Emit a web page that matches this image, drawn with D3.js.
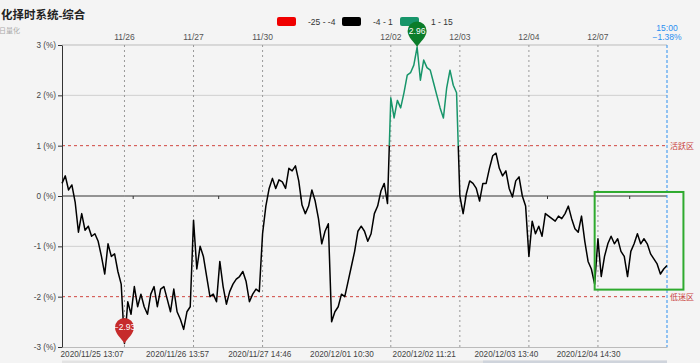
<!DOCTYPE html>
<html>
<head>
<meta charset="utf-8">
<title>化择时系统-综合</title>
<style type="text/css">
	body {
		margin: 0;
		background: #f4f4f4;
	}
	svg {
		display: block;
		font-family: "Liberation Sans", "Noto Sans CJK SC", sans-serif;
	}
</style>
<script src="https://d3js.org/d3.v7.min.js"></script>
</head>
<body>
<script type="text/javascript">
	// one array per trading day, values in %
	var d1125 = [0.25, 0.40, 0.12, 0.22, -0.12, -0.72, -0.35, -0.68, -0.60, -0.80, -0.75, -0.90, -1.20, -1.55, -0.95, -1.20, -1.15, -1.50, -1.75];
	var d1126 = [-2.93, -2.10, -2.35, -1.80, -2.20, -1.95, -2.20, -2.35, -1.95, -1.80, -2.20, -1.85, -1.80, -2.05, -2.30, -1.85, -2.30, -2.45, -2.65, -2.30, -2.20];
	var d1127 = [-0.48, -1.45, -1.00, -1.20, -1.60, -2.00, -1.95, -2.10, -1.30, -1.80, -2.15, -1.90, -1.75, -1.65, -1.60, -1.50, -1.70, -2.10, -1.95, -1.85, -1.90];
	var d1130 = [-0.75, -0.20, 0.15, 0.35, 0.15, 0.32, 0.28, 0.15, 0.55, 0.50, 0.60, 0.30, -0.18, -0.35, -0.20, 0.12, -0.10, -0.45, -0.95, -0.70];
	var d1201 = [-0.55, -2.50, -2.30, -2.20, -1.95, -2.00, -1.70, -1.40, -1.10, -0.70, -0.60, -0.70, -0.90, -0.75, -0.35, -0.20, 0.10, 0.25, -0.15];
	var d1202 = [1.95, 1.55, 1.90, 1.75, 2.05, 2.40, 2.45, 2.60, 2.96, 2.30, 2.70, 2.55, 2.50, 2.25, 2.00, 1.75, 1.55, 2.15, 2.50, 2.20, 2.05];
	var d1203 = [0.00, -0.35, 0.05, 0.30, 0.25, 0.15, -0.10, 0.25, 0.25, 0.55, 0.80, 0.85, 0.55, 0.40, 0.50, 0.15, -0.02, 0.30, 0.38, 0.00, -0.20];
	var d1204 = [-1.20, -0.50, -0.75, -0.60, -0.80, -0.35, -0.40, -0.45, -0.50, -0.40, -0.45, -0.35, -0.20, -0.45, -0.65, -0.72, -0.40, -0.90, -1.30, -1.45, -1.75];
	var d1207 = [-0.85, -1.60, -1.20, -0.95, -0.80, -0.95, -0.85, -1.10, -1.20, -1.60, -1.10, -0.95, -0.75, -0.95, -0.85, -0.95, -1.15, -1.25, -1.35, -1.55, -1.45, -1.38];

	var days = ["11/25", "11/26", "11/27", "11/30", "12/01", "12/02", "12/03", "12/04", "12/07"];
	var dayValues = [d1125, d1126, d1127, d1130, d1201, d1202, d1203, d1204, d1207];
	var shownDays = ["11/26", "11/27", "11/30", "12/02", "12/03", "12/04", "12/07"];

	var timeLabels = ["2020/11/25 13:07", "2020/11/26 13:57", "2020/11/27 14:46", "2020/12/01 10:30", "2020/12/02 11:21", "2020/12/03 13:40", "2020/12/04 14:30"];
	var timeTicks = [9, 35, 60, 85, 110, 135, 160];
	var yTicks = [3, 2, 1, 0, -1, -2, -3];

	var pieceLabels = ["-25 - -4", "-4 - 1", "1 - 15"];
	var pieceBounds = [[-25, -4], [-4, 1], [1, 15]];
	var pieceColors = ["#f00000", "#000000", "#17956a"];

	var zoneValues = [1, -2];
	var zoneLabels = ["活跃区", "低迷区"];

	var lastTime = "15:00";
	var boxIdx = [162, 189];
	var boxVal = [0.08, -1.86];

	var values = d3.merge(dayValues);
	var starts = [], n = 0;
	dayValues.forEach(function(v) { starts.push(n); n += v.length; });

	var svg = d3.select("body").append("svg")
		.attr("width", 700)
		.attr("height", 363);

	var margin = {top: 45, right: 33, bottom: 16, left: 62},
		width = 700 - margin.left - margin.right,
		height = 363 - margin.top - margin.bottom;

	var x = d3.scaleLinear().domain([0, values.length - 1]).range([margin.left, margin.left + width]),
		y = d3.scaleLinear().domain([-3, 3]).range([margin.top + height, margin.top]);

	// title
	svg.append("text")
		.attr("x", 1).attr("y", 19)
		.attr("font-size", 11.5).attr("font-weight", "bold")
		.attr("fill", "#222")
		.text("化择时系统-综合");
	svg.append("text")
		.attr("x", -1).attr("y", 33)
		.attr("font-size", 7).attr("fill", "#aaa")
		.text("日量化");

	// grid lines
	yTicks.forEach(function(t) {
		if (t === -3) return;
		var zi = zoneValues.indexOf(t);
		svg.append("line")
			.attr("x1", x(0)).attr("x2", x(values.length - 1))
			.attr("y1", y(t)).attr("y2", y(t))
			.attr("stroke", t === 0 ? "#333" : zi >= 0 ? "#d0453f" : t === 3 ? "#bbb" : "#cfcfcf")
			.attr("stroke-dasharray", zi >= 0 ? "3,3" : null);
		if (zi >= 0) {
			svg.append("text")
				.attr("x", x(values.length - 1) + 3).attr("y", y(t) + 3)
				.attr("font-size", 8).attr("fill", "#c9403a")
				.text(zoneLabels[zi]);
		}
	});

	// day separators
	shownDays.forEach(function(d) {
		var xi = x(starts[days.indexOf(d)]);
		svg.append("line")
			.attr("x1", xi).attr("x2", xi)
			.attr("y1", y(3)).attr("y2", y(-3))
			.attr("stroke", "#999").attr("stroke-dasharray", "2,3");
		svg.append("text")
			.attr("x", xi).attr("y", 40)
			.attr("text-anchor", "middle")
			.attr("font-size", 8.5).attr("fill", "#555")
			.text(d);
	});

	// small ticks on the zero line
	svg.append("g")
		.attr("transform", "translate(0," + y(0) + ")")
		.call(d3.axisBottom(x).tickValues(timeTicks.map(function(t) { return t + 12.5; })).tickSize(3).tickFormat(""))
		.call(function(g) { g.select(".domain").remove(); g.selectAll("line").attr("stroke", "#333"); });

	// x axis
	var gx = svg.append("g")
		.attr("transform", "translate(0," + y(-3) + ")")
		.call(d3.axisBottom(x).tickValues(timeTicks).tickSize(0).tickSizeOuter(0).tickPadding(4)
			.tickFormat(function(d, i) { return timeLabels[i]; }));
	gx.attr("font-family", null).attr("font-size", 8.2);
	gx.select(".domain").attr("stroke", "#bbb");
	gx.selectAll("text").attr("fill", "#444");

	// y axis
	var gy = svg.append("g")
		.attr("transform", "translate(" + margin.left + ",0)")
		.call(d3.axisLeft(y).tickValues(yTicks).tickSize(4).tickSizeOuter(0).tickPadding(2)
			.tickFormat(function(d) { return d + " (%)"; }));
	gy.attr("font-family", null).attr("font-size", 8.2);
	gy.selectAll("line, .domain").attr("stroke", "#333");
	gy.selectAll("text").attr("fill", "#444");

	// end marker
	var xe = x(values.length - 1);
	svg.append("line")
		.attr("x1", xe).attr("x2", xe)
		.attr("y1", y(3)).attr("y2", y(-3))
		.attr("stroke", "#2a8ff0").attr("stroke-dasharray", "3,2");
	svg.append("text")
		.attr("x", xe).attr("y", 31).attr("text-anchor", "middle")
		.attr("font-size", 8.5).attr("fill", "#2a8ff0")
		.text(lastTime);
	svg.append("text")
		.attr("x", xe).attr("y", 40).attr("text-anchor", "middle")
		.attr("font-size", 8.5).attr("fill", "#2a8ff0")
		.text(d3.format(".2f")(values[values.length - 1]) + "%");

	// piecewise colour by value
	var grad = svg.append("defs").append("linearGradient")
		.attr("id", "pieces")
		.attr("gradientUnits", "userSpaceOnUse")
		.attr("x1", 0).attr("x2", 0)
		.attr("y1", y(15)).attr("y2", y(-25));
	var off = function(v) { return (y(v) - y(15)) / (y(-25) - y(15)); };
	d3.range(pieceBounds.length).reverse().forEach(function(i) {
		grad.append("stop").attr("offset", off(pieceBounds[i][1])).attr("stop-color", pieceColors[i]);
		grad.append("stop").attr("offset", off(pieceBounds[i][0])).attr("stop-color", pieceColors[i]);
	});

	svg.append("path")
		.datum(values)
		.attr("fill", "none")
		.attr("stroke", "url(#pieces)")
		.attr("stroke-width", 1.5)
		.attr("stroke-linejoin", "round")
		.attr("d", d3.line()
			.x(function(d, i) { return x(i); })
			.y(function(d) { return y(d); }));

	// highlight box
	svg.append("rect")
		.attr("x", x(boxIdx[0])).attr("y", y(boxVal[0]))
		.attr("width", x(boxIdx[1]) - x(boxIdx[0]))
		.attr("height", y(boxVal[1]) - y(boxVal[0]))
		.attr("fill", "none").attr("stroke", "#2eaa2e").attr("stroke-width", 2);

	// legend
	var lx = [277, 342, 400];
	pieceLabels.forEach(function(l, i) {
		svg.append("rect")
			.attr("x", lx[i]).attr("y", 17).attr("width", 19).attr("height", 9).attr("rx", 2)
			.attr("fill", pieceColors[i]);
		svg.append("text")
			.attr("x", lx[i] + 31).attr("y", 24.5)
			.attr("font-size", 8.5).attr("fill", "#333")
			.text(l);
	});

	// min / max pins
	var pin = "M0,0 C-3,-5 -9.5,-10 -9.5,-16 A9.5,9.5 0 1 1 9.5,-16 C9.5,-10 3,-5 0,0 Z";
	[[d3.minIndex(values), "#c62b2b"], [d3.maxIndex(values), "#0b7d2a"]].forEach(function(p) {
		var g = svg.append("g")
			.attr("transform", "translate(" + x(p[0]) + "," + y(values[p[0]]) + ")");
		g.append("path").attr("d", pin).attr("fill", p[1]);
		g.append("text")
			.attr("y", -13).attr("text-anchor", "middle")
			.attr("font-size", 8.5).attr("fill", "#fff")
			.text(d3.format(".2f")(values[p[0]]));
	});

	// slider strip at the bottom
	svg.append("rect")
		.attr("x", x(0)).attr("y", 360.5).attr("width", width).attr("height", 3)
		.attr("fill", "#e3e3e3");
	svg.append("rect")
		.attr("x", 483).attr("y", 360.5).attr("width", x(values.length - 1) - 483).attr("height", 3)
		.attr("fill", "#cfd4dc");
</script>
</body>
</html>
